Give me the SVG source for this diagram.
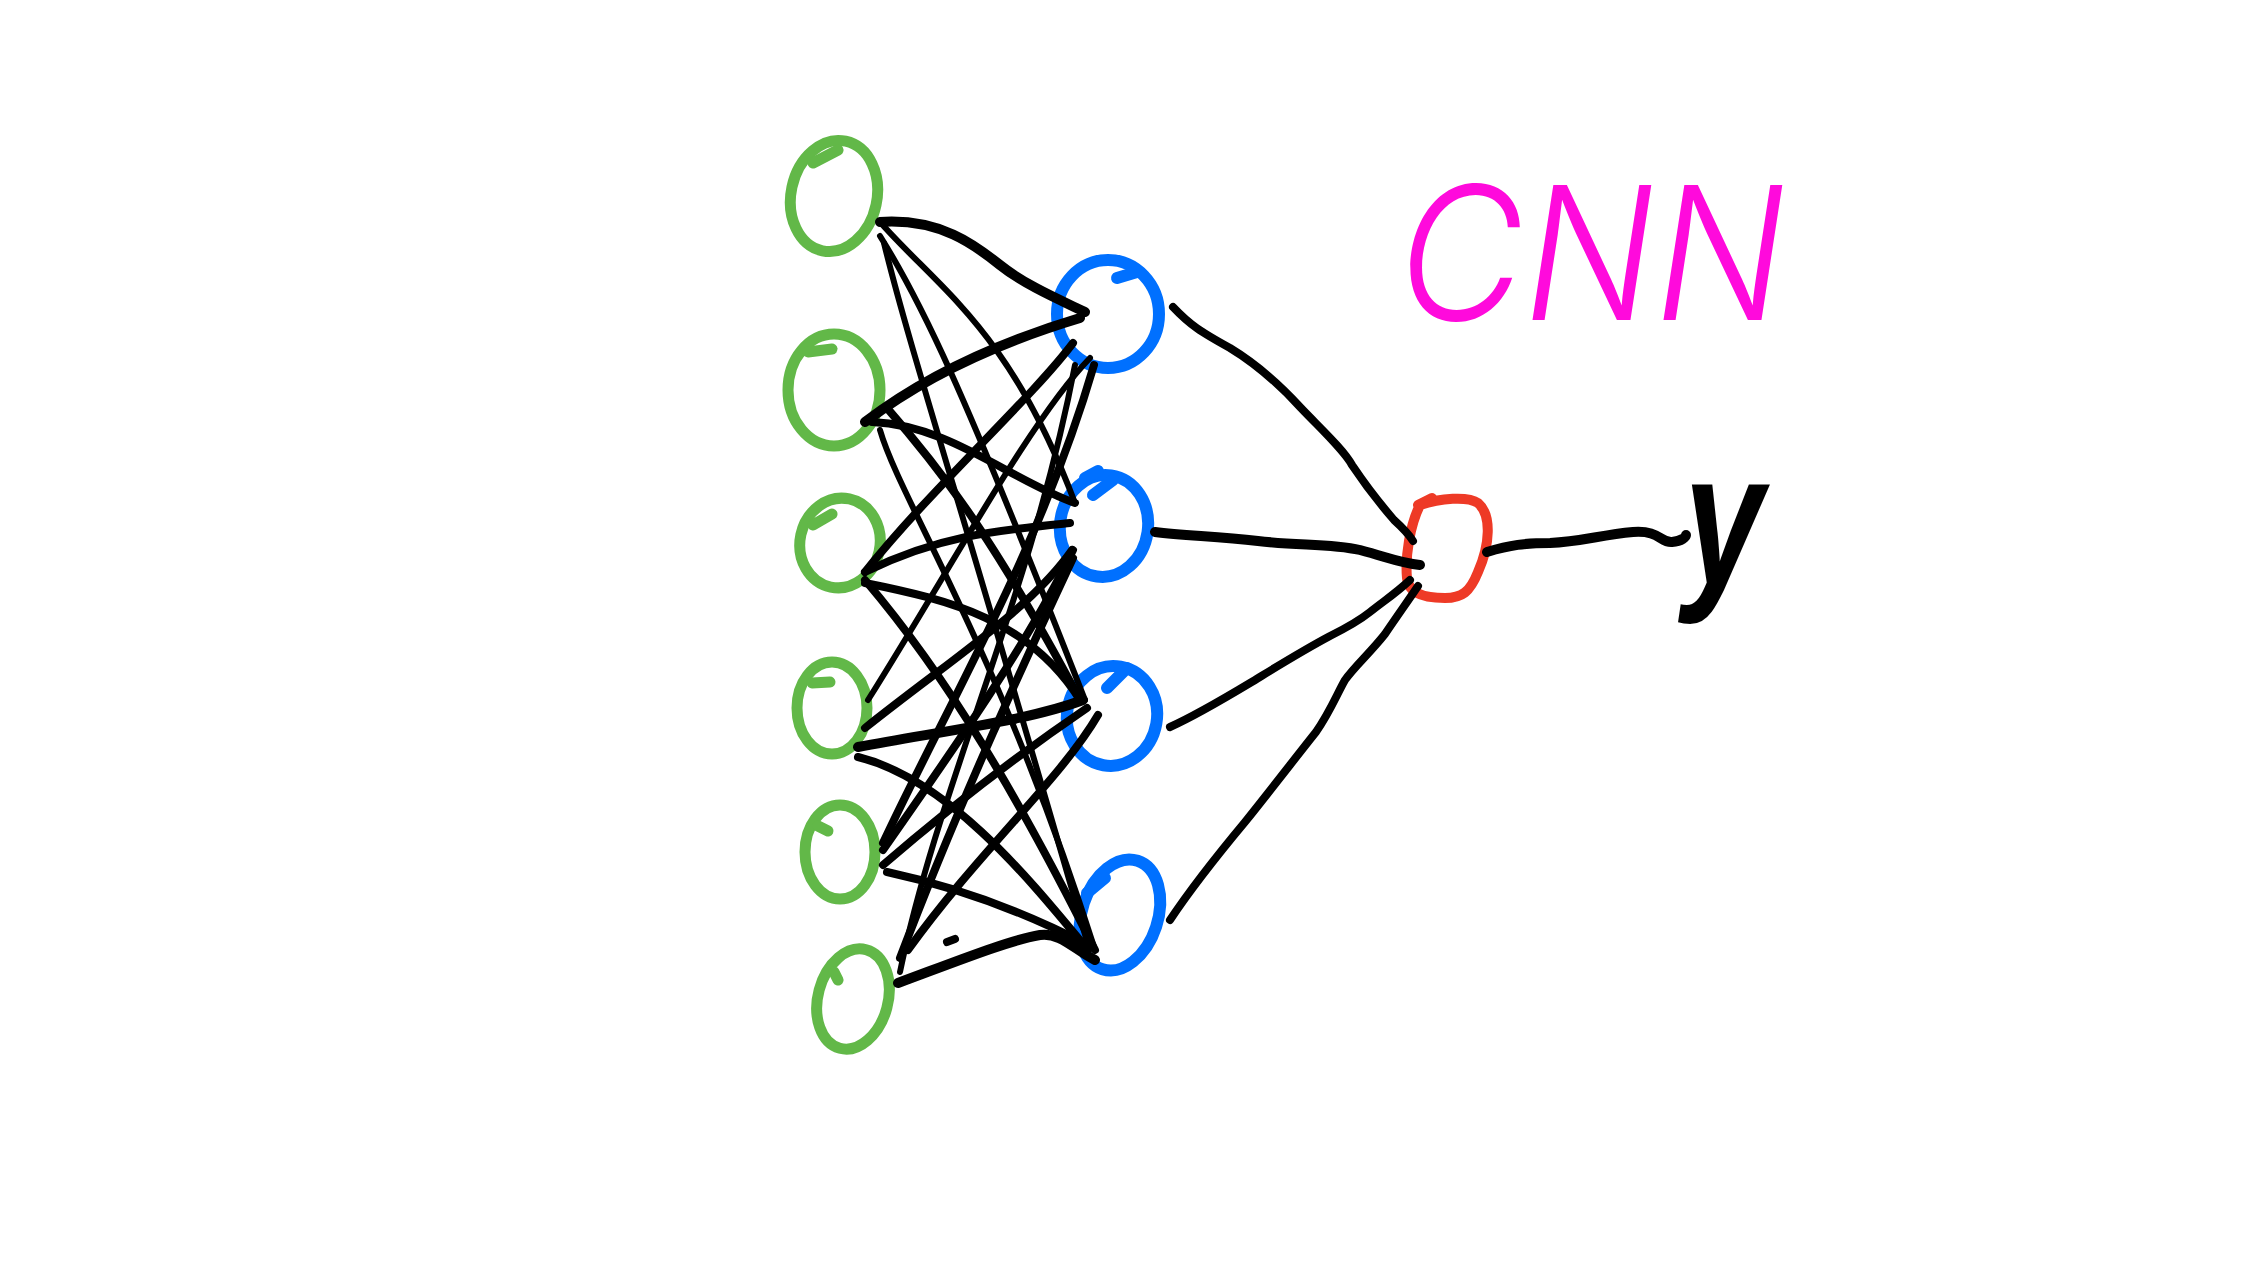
<svg xmlns="http://www.w3.org/2000/svg" width="2242" height="1261" viewBox="0 0 2242 1261">
<style>
.g{fill:none;stroke:#62b848;stroke-width:11;stroke-linecap:round;stroke-linejoin:round}
.b{fill:none;stroke:#0070ff;stroke-width:12;stroke-linecap:round;stroke-linejoin:round}
.r{fill:none;stroke:#ee3a26;stroke-width:10;stroke-linecap:round;stroke-linejoin:round}
.c path{fill:none;stroke:#000;stroke-linecap:round;stroke-linejoin:round}
.t1{stroke-width:6}
.t2{stroke-width:8}
.t3{stroke-width:10}
.lbl{font-family:Inter,"Liberation Sans",sans-serif;fill:#ff0adc}
</style>
<rect width="2242" height="1261" fill="#fff"/>
<g id="in1"><ellipse class="g" cx="834" cy="196" rx="43" ry="56" transform="rotate(12 834 196)"/><path class="g" d="M813,163 L838,150"/></g>
<g id="in2"><ellipse class="g" cx="834" cy="390" rx="46" ry="56"/><path class="g" d="M808,352 L832,349"/></g>
<g id="in3"><ellipse class="g" cx="840" cy="543" rx="40" ry="45" transform="rotate(12 840 543)"/><path class="g" d="M813,525 L832,514"/></g>
<g id="in4"><ellipse class="g" cx="832" cy="708" rx="35" ry="46"/><path class="g" d="M812,683 L830,682"/></g>
<g id="in5"><ellipse class="g" cx="840" cy="852" rx="35" ry="47"/><path class="g" d="M818,826 L828,831"/></g>
<g id="in6"><ellipse class="g" cx="853" cy="999" rx="35" ry="51" transform="rotate(15 853 999)"/><path class="g" d="M834,972 L838,980"/></g>
<g id="h1"><ellipse class="b" cx="1108" cy="314" rx="51" ry="54"/><path class="b" d="M1117,278 L1137,272"/></g>
<g id="h2"><ellipse class="b" cx="1104" cy="526" rx="44" ry="51" transform="rotate(8 1104 526)"/><path class="b" d="M1093,495 L1113,480 M1085,478 L1098,471"/></g>
<g id="h3"><ellipse class="b" cx="1112" cy="716" rx="45" ry="50" transform="rotate(10 1112 716)"/><path class="b" d="M1107,688 L1127,668"/></g>
<g id="h4"><ellipse class="b" cx="1120" cy="915" rx="38" ry="57" transform="rotate(18 1120 915)"/><path class="b" d="M1087,893 L1105,878"/></g>
<g id="out"><path class="r" d="M1420,505 C1440,498 1468,496 1478,503 C1492,515 1490,545 1478,572 C1470,592 1462,598 1445,598 C1425,598 1408,594 1407,578 C1405,556 1410,525 1420,505 Z M1418,505 L1432,498"/></g>
<g id="labels">
<text class="lbl" x="1398" y="320" font-size="186" font-weight="300" font-style="italic" textLength="388" lengthAdjust="spacingAndGlyphs">CNN</text>
<text x="1684" y="585" font-family="'Liberation Sans',sans-serif" font-size="190" font-weight="bold" font-style="italic" fill="#000" textLength="80" lengthAdjust="spacingAndGlyphs">y</text>
</g>
<g id="connectors" class="c">
<path class="t3" d="M880,222 C940,218 975,245 1000,265 S1060,300 1085,312"/>
<path class="t1" d="M880,222 C940,290 1010,330 1075,503"/>
<path class="t1" d="M880,236 C920,300 960,380 1085,700"/>
<path class="t1" d="M884,243 C910,350 960,500 1088,945"/>
<path class="t3" d="M865,422 C920,380 990,345 1080,318"/>
<path class="t2" d="M872,422 C950,425 1010,480 1075,503"/>
<path class="t2" d="M887,408 C950,480 1000,550 1080,700"/>
<path class="t1" d="M880,430 C900,500 1000,650 1095,950"/>
<path class="t2" d="M865,572 C930,490 1030,400 1073,343"/>
<path class="t2" d="M865,572 C940,535 1000,530 1070,523"/>
<path class="t2" d="M865,583 C950,600 1030,620 1080,700"/>
<path class="t2" d="M865,580 C950,680 1020,800 1095,950"/>
<path class="t1" d="M868,700 C950,570 1030,420 1090,358"/>
<path class="t2" d="M865,728 C950,660 1030,610 1072,550"/>
<path class="t3" d="M858,747 C950,730 1030,720 1083,700"/>
<path class="t2" d="M858,757 C950,780 1030,880 1088,950"/>
<path class="t2" d="M883,843 C950,700 1040,550 1094,365"/>
<path class="t2" d="M883,850 C960,740 1030,640 1073,550"/>
<path class="t2" d="M883,865 C970,790 1040,740 1087,708"/>
<path class="t2" d="M887,872 C970,890 1040,920 1088,945"/>
<path class="t1" d="M900,972 C940,780 1030,600 1075,365"/>
<path class="t2" d="M900,958 C960,800 1030,650 1073,558"/>
<path class="t2" d="M908,950 C980,850 1060,780 1098,715"/>
<path class="t3" d="M898,983 C960,960 1010,940 1040,935 C1060,932 1075,950 1095,960"/>
<path class="t2" d="M947,942 L955,939"/>
<path class="t2" d="M1173,307 C1190,325 1201,332 1230,348 C1258,365 1280,385 1301,408 C1320,428 1344,450 1352,465 C1362,480 1375,498 1394,520 C1405,530 1410,536 1413,541"/>
<path class="t3" d="M1155,532 C1185,536 1215,536 1258,541 C1300,546 1330,543 1360,550 C1390,558 1400,563 1420,565"/>
<path class="t2" d="M1170,727 C1190,718 1215,704 1250,683 C1273,669 1300,652 1330,636 C1350,626 1360,620 1370,612 C1385,600 1395,594 1410,580"/>
<path class="t2" d="M1170,920 C1190,890 1215,858 1245,822 C1273,787 1300,752 1316,732 C1330,712 1337,694 1345,680 C1355,666 1370,653 1385,634 C1400,612 1410,598 1418,586"/>
<path class="t3" d="M1487,552 C1510,545 1525,543 1550,543 C1580,542 1600,535 1633,532 C1660,530 1660,543 1672,542 C1682,541 1686,537 1686,535"/>
</g>
</svg>
